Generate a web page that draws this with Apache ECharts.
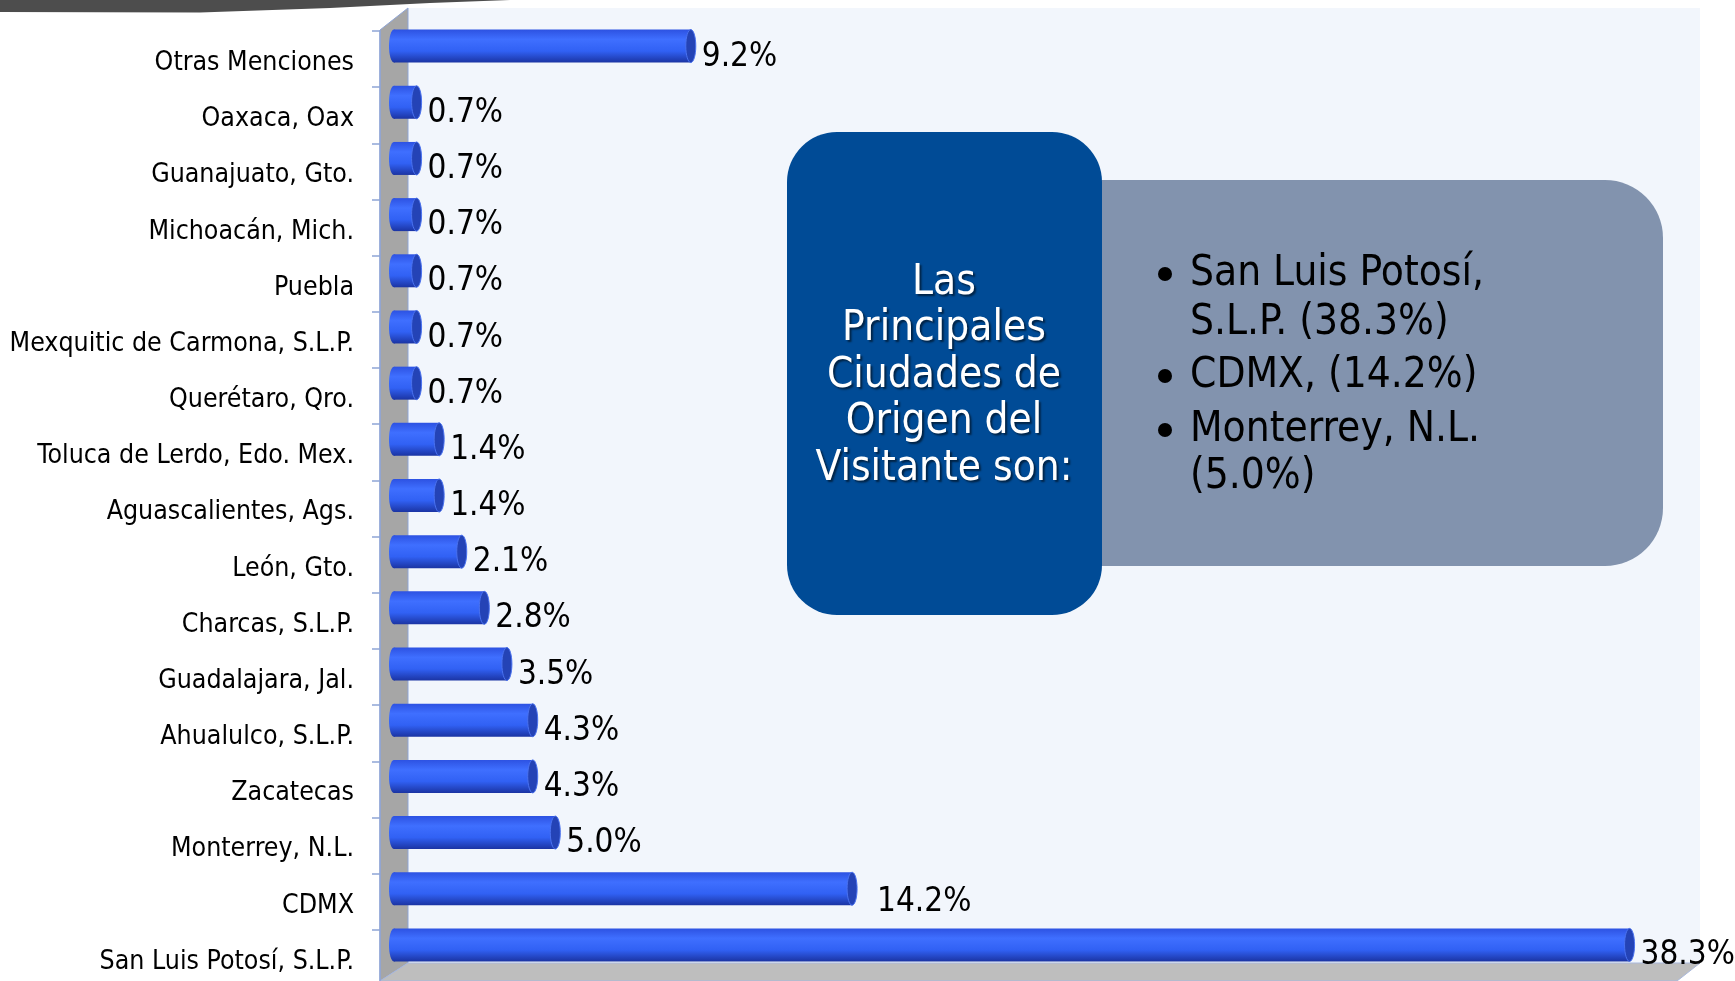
<!DOCTYPE html>
<html>
<head>
<meta charset="utf-8">
<script src="https://cdn.jsdelivr.net/npm/echarts@6/dist/echarts.min.js"></script>
<style>
  html, body { margin: 0; padding: 0; background: #fff; overflow: hidden; }
  /* a little taller than the window so the last category band is not squeezed */
  #chart { width: 1735px; height: 1000px; }
</style>
</head>
<body>
<div id="chart"></div>
<script>
// categories top to bottom, as in the picture
const categories = [
  "Otras Menciones",
  "Oaxaca, Oax",
  "Guanajuato, Gto.",
  "Michoacán, Mich.",
  "Puebla",
  "Mexquitic de Carmona, S.L.P.",
  "Querétaro, Qro.",
  "Toluca de Lerdo, Edo. Mex.",
  "Aguascalientes, Ags.",
  "León, Gto.",
  "Charcas, S.L.P.",
  "Guadalajara, Jal.",
  "Ahualulco, S.L.P.",
  "Zacatecas",
  "Monterrey, N.L.",
  "CDMX",
  "San Luis Potosí, S.L.P."
];
const percents = [9.2, 0.7, 0.7, 0.7, 0.7, 0.7, 0.7, 1.4, 1.4, 2.1, 2.8, 3.5, 4.3, 4.3, 5.0, 14.2, 38.3];

const calloutTitle = ["Las", "Principales", "Ciudades de", "Origen del", "Visitante son:"];
const calloutItems = [
  ["San Luis Potosí,", "S.L.P. (38.3%)"],
  ["CDMX, (14.2%)"],
  ["Monterrey, N.L.", "(5.0%)"]
];

const FONT = "'DejaVu Sans Condensed', 'DejaVu Sans', sans-serif";
const chart = echarts.init(document.getElementById("chart"));

const barGradient = new echarts.graphic.LinearGradient(0, 0, 0, 1, [
  { offset: 0, color: "#2d52e2" },
  { offset: 0.3, color: "#3f6fff" },
  { offset: 0.65, color: "#3161f4" },
  { offset: 1, color: "#1b34a3" }
]);

function renderBar(params, api) {
  const v = api.value(0);
  const idx = api.value(1);
  const start = api.coord([0, idx]);
  const end = api.coord([v, idx]);
  const h = 33;
  const cy = end[1];
  const x0 = start[0] - 10;
  const x1 = end[0];
  const shift = categories[idx] === "CDMX" ? 14 : 0;
  return {
    type: "group",
    children: [
      {
        type: "ellipse",
        shape: { cx: x0 + 5, cy: cy, rx: 5, ry: h / 2 },
        style: { fill: barGradient }
      },
      {
        type: "rect",
        shape: { x: x0 + 5, y: cy - h / 2, width: Math.max(x1 - x0 - 10, 0), height: h },
        style: { fill: barGradient }
      },
      {
        type: "ellipse",
        shape: { cx: x1 - 5, cy: cy, rx: 5, ry: h / 2 },
        style: { fill: "#2443b6", stroke: "#4a72f0", lineWidth: 1 }
      },
      {
        type: "text",
        style: {
          text: v.toFixed(1) + "%",
          x: x1 + 6 + shift,
          y: cy + 11 + (shift ? 3 : 0),
          font: "33px " + FONT,
          fill: "#000",
          verticalAlign: "middle"
        }
      }
    ]
  };
}

const decor = [
  // top swoosh
  {
    type: "polygon",
    z: -20,
    shape: { points: [[0, 0], [510, 0], [430, 3], [330, 8], [200, 12.5], [0, 12]] },
    style: { fill: "#4d4d4d" }
  },
  // back wall
  { type: "rect", z: -20, shape: { x: 408, y: 8, width: 1292, height: 955 }, style: { fill: "#f2f6fc" } },
  // side wall
  {
    type: "polygon",
    z: -19,
    shape: { points: [[380, 30], [408, 8], [408, 963], [380, 981]] },
    style: { fill: "#a6a6a6", stroke: "#8fa5d6", lineWidth: 1 }
  },
  // floor
  {
    type: "polygon",
    z: -19,
    shape: { points: [[380, 981], [408, 963], [1700, 963], [1677, 981]] },
    style: { fill: "#bebebe", stroke: "#a9b8dc", lineWidth: 1 }
  },
  // grey callout
  {
    type: "rect",
    z: 10,
    shape: { x: 1000, y: 180, width: 663, height: 386, r: [0, 58, 58, 0] },
    style: { fill: "#8293ae" }
  },
  // blue callout
  {
    type: "rect",
    z: 11,
    shape: { x: 787, y: 132, width: 315, height: 483, r: 50 },
    style: { fill: "#004b96" }
  },
  {
    type: "text",
    z: 12,
    style: {
      text: calloutTitle.join("\n"),
      x: 944,
      y: 376,
      font: "42px " + FONT,
      lineHeight: 46.5,
      fill: "#fff",
      align: "center",
      verticalAlign: "middle",
      textShadowColor: "rgba(0,0,0,0.55)",
      textShadowBlur: 2,
      textShadowOffsetX: 2,
      textShadowOffsetY: 2
    }
  }
];

// bullet list in the grey callout
const lineYs = [[274, 323], [376], [430, 477]];
calloutItems.forEach((lines, i) => {
  decor.push({
    type: "circle",
    z: 12,
    shape: { cx: 1165, cy: lineYs[i][0], r: 7 },
    style: { fill: "#000" }
  });
  lines.forEach((t, j) => {
    decor.push({
      type: "text",
      z: 12,
      style: {
        text: t,
        x: 1190,
        y: lineYs[i][j],
        font: "42px " + FONT,
        fill: "#000",
        verticalAlign: "middle"
      }
    });
  });
});

const option = {
  animation: false,
  backgroundColor: "#fff",
  graphic: decor,
  grid: [
    // axis line + ticks
    { left: 380, top: 31, height: 955, right: 45.6 },
    // bars (sit higher in each band, 3D depth)
    { left: 399, top: 18, height: 955, right: 45.6 },
    // category labels
    { left: 380, top: 35, height: 955, right: 45.6 }
  ],
  xAxis: [
    { gridIndex: 0, type: "value", min: 0, max: 40, show: false },
    { gridIndex: 1, type: "value", min: 0, max: 40, show: false },
    { gridIndex: 2, type: "value", min: 0, max: 40, show: false }
  ],
  yAxis: [
    {
      gridIndex: 0,
      type: "category",
      data: categories,
      inverse: true,
      z: 5,
      axisLine: { show: true, lineStyle: { color: "#8fa5d6", width: 1.5 } },
      axisTick: { show: true, length: 8, lineStyle: { color: "#8fa5d6", width: 1.5 } },
      axisLabel: { show: false },
      splitLine: { show: false }
    },
    {
      gridIndex: 1,
      type: "category",
      data: categories,
      inverse: true,
      show: false
    },
    {
      gridIndex: 2,
      type: "category",
      data: categories,
      inverse: true,
      axisLine: { show: false },
      axisTick: { show: false },
      axisLabel: { margin: 26, color: "#000", fontSize: 26.5, fontFamily: FONT },
      splitLine: { show: false }
    }
  ],
  series: [
    {
      type: "custom",
      xAxisIndex: 1,
      yAxisIndex: 1,
      z: 3,
      renderItem: renderBar,
      data: percents.map((v, i) => [v, i])
    }
  ]
};

chart.setOption(option);
window.addEventListener("resize", () => chart.resize());
</script>
</body>
</html>
